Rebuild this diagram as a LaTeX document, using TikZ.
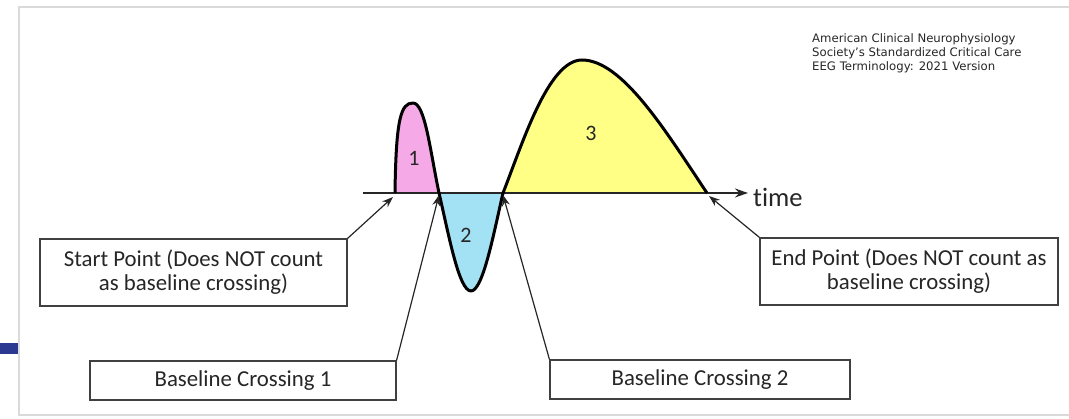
\documentclass[tikz,border=0pt]{standalone}
\usepackage{fontspec}
\setmainfont{Carlito}
\newfontfamily\verd{DejaVu Sans}
\usetikzlibrary{arrows.meta}
\definecolor{txt}{HTML}{262626}
\definecolor{pinkfill}{HTML}{F5A9E6}
\definecolor{bluefill}{HTML}{A3E1F4}
\definecolor{yelfill}{HTML}{FFFF85}
\definecolor{framegray}{HTML}{DADADA}
\definecolor{barblue}{HTML}{2B3990}
\tikzset{
  labelbox/.style={draw=black!75, line width=1.1pt, fill=white, text=txt, font=\fontsize{22.8}{24}\selectfont, align=center, inner sep=0pt},
  pointer/.style={draw=black!85, line width=1.2pt, -{Stealth[length=11pt,width=8pt]}},
  wave/.style={draw=black, line width=3pt, line join=round},
  num/.style={text=txt, font=\fontsize{22}{24}\selectfont, inner sep=0pt}
}
\begin{document}
\begin{tikzpicture}[x=1pt,y=-1pt]
\useasboundingbox (0,0) rectangle (1069,419);
% slide frame
\draw[framegray, line width=2pt] (1075,7) -- (19,7) -- (19,415) -- (1075,415);
\fill[barblue] (0,343) rectangle (18,354);
% fills
\fill[pinkfill] (395,193) .. controls (396,118) and (401,103) .. (413,103) .. controls (425,103) and (430,150) .. (439,193) -- cycle;
\fill[bluefill] (439,193) .. controls (449,236) and (459,291) .. (471,291) .. controls (483,291) and (494,232) .. (503,193) -- cycle;
\fill[yelfill] (503,193) .. controls (522,145) and (548,60) .. (582,60) .. controls (622,60) and (665,130) .. (707,193) -- cycle;
% axis
\draw[black!85, line width=1.5pt, -{Stealth[length=13pt,width=9pt]}] (363,193) -- (748,193);
\node[anchor=west, text=txt, font=\fontsize{26.6}{28}\selectfont, inner sep=0pt] (time) at (753,197) {t\kern0pt ime};
% wave outline
\draw[wave] (395,193) .. controls (396,118) and (401,103) .. (413,103) .. controls (425,103) and (430,150) .. (439,193)
  .. controls (449,236) and (459,291) .. (471,291) .. controls (483,291) and (494,232) .. (503,193)
  .. controls (522,145) and (548,60) .. (582,60) .. controls (622,60) and (665,130) .. (707,193);
% numbers
\node[num] (n1) at (414,158) {1};
\node[num] (n2) at (466,235) {2};
\node[num] (n3) at (591,133) {3};
% boxes
\node[labelbox, minimum width=307pt, minimum height=67pt] (start) at (193.5,272.5) {Start Point (Does NOT count\\as baseline crossing)};
\node[labelbox, minimum width=306pt, minimum height=39pt] (bc1) at (243,380.5) {Baseline Crossing 1};
\node[labelbox, minimum width=300pt, minimum height=39pt] (bc2) at (700,379.5) {Baseline Crossing 2};
\node[labelbox, minimum width=298pt, minimum height=67pt] (endp) at (909,271.5) {End Point (Does NOT count as\\baseline crossing)};
% pointer targets
\coordinate (c0) at (393,197);
\coordinate (c1) at (439,195);
\coordinate (c2) at (503,195);
\coordinate (c3) at (709,196);
\draw[pointer] (start.north east) -- (c0);
\draw[pointer] (bc1.north east) -- (c1);
\draw[pointer] (bc2.north west) -- (c2);
\draw[pointer] (endp.north west) -- (c3);
% citation
\node[anchor=north west, align=left, text=txt, font=\verd\fontsize{11.7}{14}\selectfont, inner sep=0pt] (cite) at (812,33) {American Clinical Neurophysiology\\Society’s Standardized Critical Care\\EEG Terminology: 2021 Version};
\end{tikzpicture}
\end{document}
